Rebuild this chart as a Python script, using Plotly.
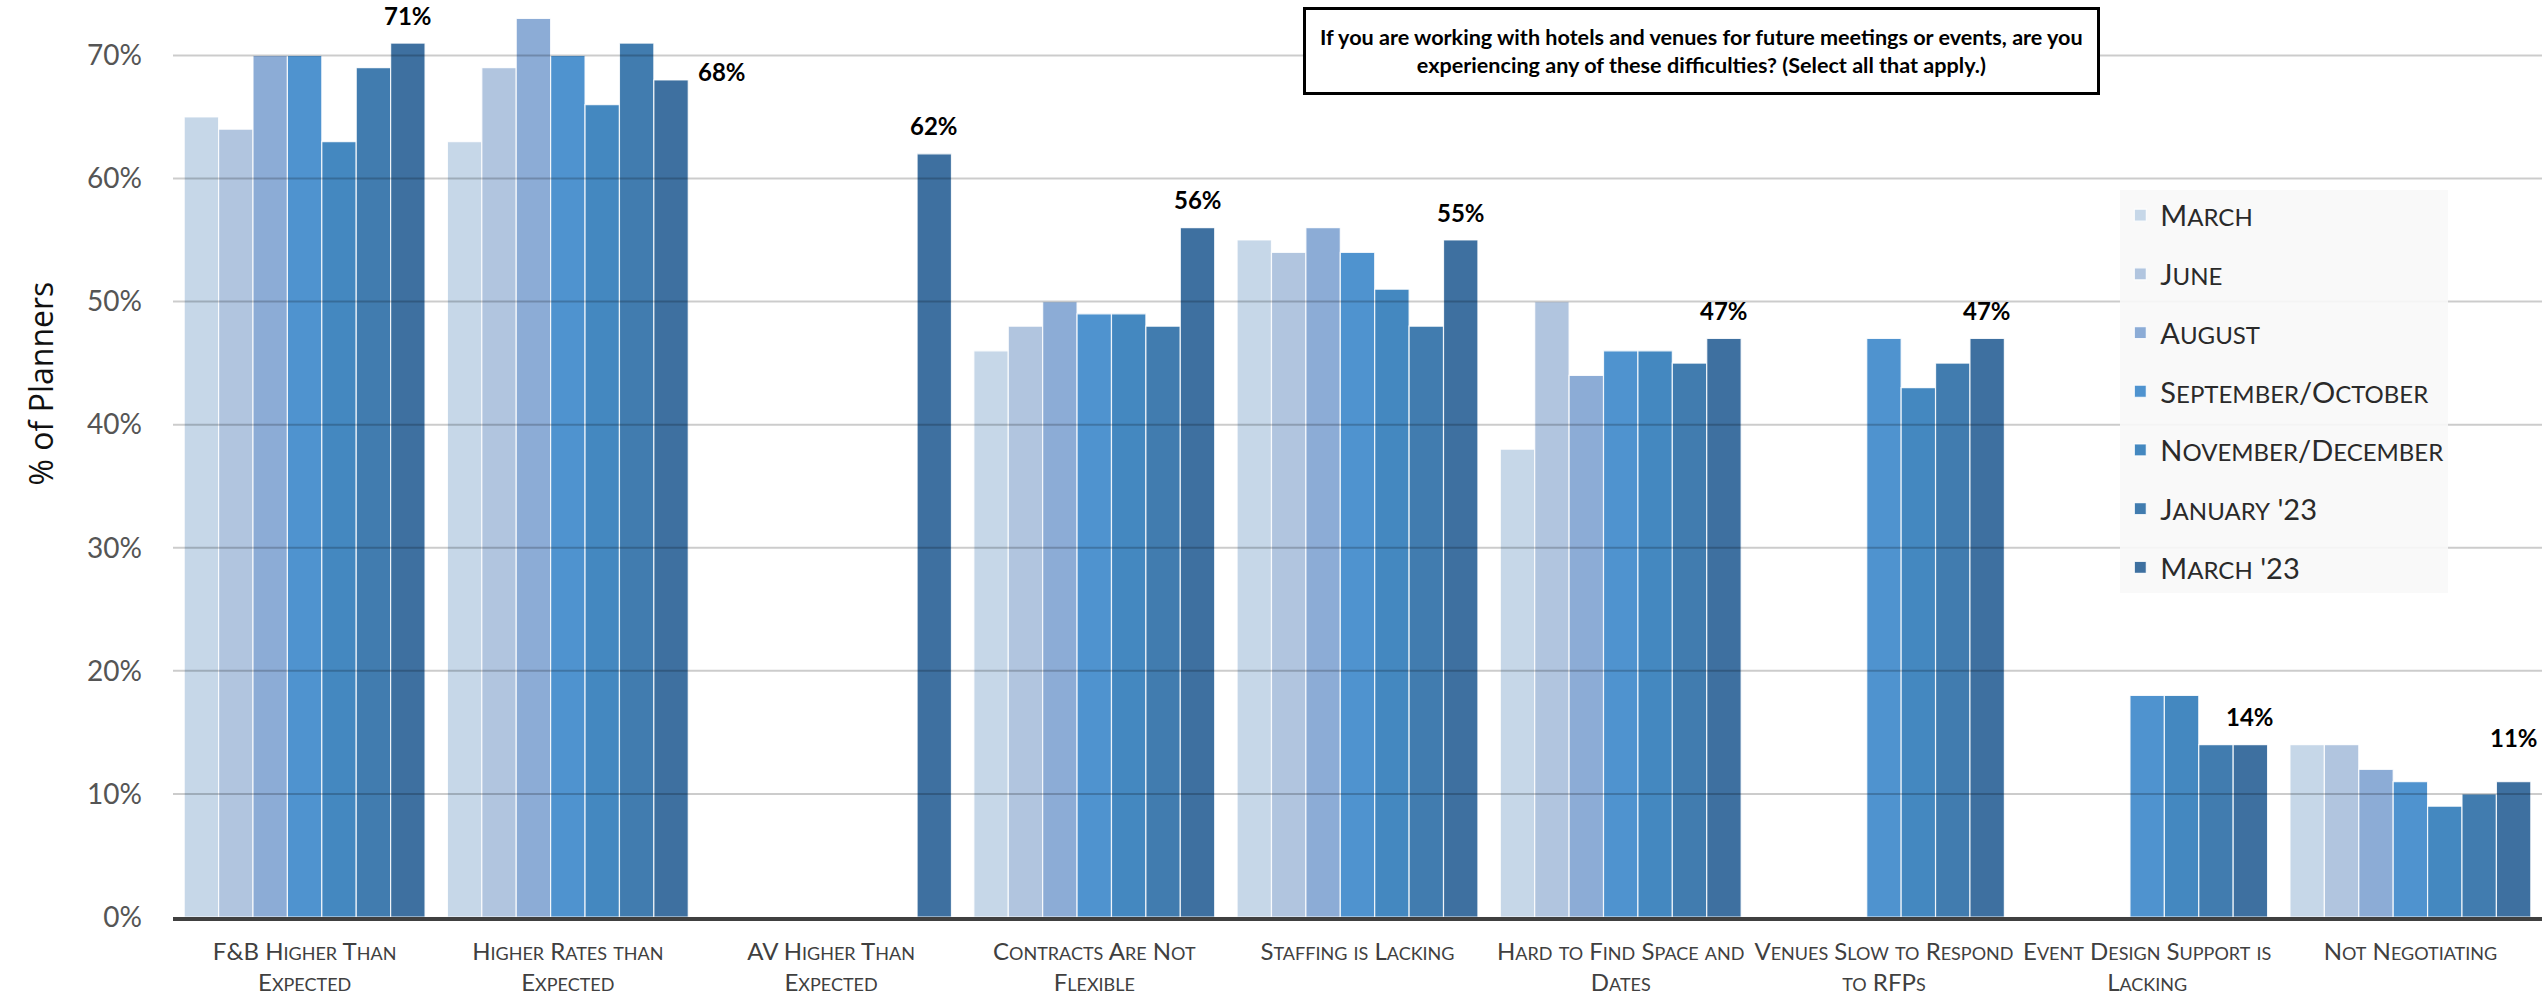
import plotly.graph_objects as go

# Survey categories (display lines) and the seven survey waves
category_lines = [
    ["F&B Higher Than", "Expected"],
    ["Higher Rates than", "Expected"],
    ["AV Higher Than", "Expected"],
    ["Contracts Are Not", "Flexible"],
    ["Staffing is Lacking"],
    ["Hard to Find Space and", "Dates"],
    ["Venues Slow to Respond", "to RFPs"],
    ["Event Design Support is", "Lacking"],
    ["Not Negotiating"],
]
categories = [" ".join(lines) for lines in category_lines]

series_names = ["March", "June", "August", "September/October",
                "November/December", "January '23", "March '23"]

march = [65, 63, None, 46, 55, 38, None, None, 14]
june = [64, 69, None, 48, 54, 50, None, None, 14]
august = [70, 73, None, 50, 56, 44, None, None, 12]
sep_oct = [70, 70, None, 49, 54, 46, 47, 18, 11]
nov_dec = [63, 66, None, 49, 51, 46, 43, 18, 9]
jan_23 = [69, 71, None, 48, 48, 45, 45, 14, 10]
march_23 = [71, 68, 62, 56, 55, 47, 47, 14, 11]
series_values = [march, june, august, sep_oct, nov_dec, jan_23, march_23]

series_colors = ["#c6d7e8", "#b1c5df", "#8cacd6", "#4f93cf",
                 "#4488c0", "#417caf", "#3e70a0"]

y_ticks = [0, 10, 20, 30, 40, 50, 60, 70]
y_tick_labels = [f"{t}%" for t in y_ticks]

TITLE = ("If you are working with hotels and venues for future meetings or events, are you"
         "<br>experiencing any of these difficulties? (Select all that apply.)")

BAR_GAP = 0.085
FONT = "Lato, 'Open Sans', sans-serif"


def small_caps(text, small_px):
    """Render lowercase letters as smaller capitals."""
    out, run = [], ""
    for ch in text:
        if ch.islower():
            run += ch.upper()
        else:
            if run:
                out.append(f'<span style="font-size:{small_px}px">{run}</span>')
                run = ""
            out.append(ch)
    if run:
        out.append(f'<span style="font-size:{small_px}px">{run}</span>')
    return "".join(out)


tick_text = ["<br>".join(small_caps(line, 18) for line in lines) for lines in category_lines]

fig = go.Figure()
for i, (name, vals, color) in enumerate(zip(series_names, series_values, series_colors)):
    fig.add_trace(go.Bar(
        x=categories,
        y=vals,
        name=small_caps(name, 24),
        legendgroup=f"g{i}",
        marker=dict(color=color, line=dict(color="rgba(255,255,255,0.85)", width=1.2)),
        hoverinfo="skip",
    ))

# Gridlines drawn over the bars so they show through
shapes = []
for t in y_ticks[1:]:
    shapes.append(dict(type="line", xref="paper", yref="y", x0=0, x1=1, y0=t, y1=t,
                       line=dict(color="rgba(0,0,0,0.2)", width=2), layer="above"))

annotations = []
# Value labels above the latest wave's bars
n_series = len(series_names)
last = n_series - 1
slot = (1 - BAR_GAP) / n_series
offset = (last - (n_series - 1) / 2) * slot
for k, v in enumerate(march_23):
    if v is None:
        continue
    xs, ys = 0, 28
    if k == 1:  # sits beside the taller neighbouring bar
        xs, ys = 51, 9
    elif k == 8:
        ys = 44
    annotations.append(dict(
        x=k + offset, y=v, xref="x", yref="y", text=f"<b>{v}%</b>",
        showarrow=False, xanchor="center", yanchor="middle", xshift=xs, yshift=ys,
        font=dict(family=FONT, size=24, color="#000000"),
    ))

# Y-axis title
annotations.append(dict(
    x=-0.0561, y=0.582, xref="paper", yref="paper", text="% of Planners",
    textangle=-90, showarrow=False, xanchor="center", yanchor="middle",
    font=dict(family="'Open Sans', sans-serif", size=32, color="#111111"),
))

# Question box
annotations.append(dict(
    x=0.645, y=0.944, xref="paper", yref="paper", text=f"<b>{TITLE}</b>",
    showarrow=False, xanchor="center", yanchor="middle", align="center",
    font=dict(family=FONT, size=21.6, color="#000000"),
    bgcolor="#ffffff", bordercolor="#000000", borderwidth=3, borderpad=14,
))

fig.update_layout(
    width=2542, height=996, autosize=False,
    margin=dict(l=173, r=0, t=0, b=79),
    paper_bgcolor="#ffffff", plot_bgcolor="#ffffff",
    barmode="group", bargap=BAR_GAP, bargroupgap=0,
    shapes=shapes, annotations=annotations,
    showlegend=True,
    legend=dict(
        x=0.822, y=0.793, xanchor="left", yanchor="top",
        bgcolor="rgba(248,248,248,0.9)", borderwidth=0,
        font=dict(family=FONT, size=29, color="#2a2a2a"),
        traceorder="grouped", tracegroupgap=18,
    ),
    xaxis=dict(
        type="category", categoryorder="array", categoryarray=categories,
        tickvals=categories, ticktext=tick_text,
        tickfont=dict(family=FONT, size=24, color="#404040"),
        showline=True, linecolor="#404040", linewidth=4,
        showgrid=False, ticks="", ticklabelstandoff=10,
    ),
    yaxis=dict(
        range=[0, 74.5], tickmode="array", tickvals=y_ticks, ticktext=y_tick_labels,
        tickfont=dict(family=FONT, size=28, color="#555555"),
        showgrid=False, zeroline=False, showline=False,
        ticks="", ticklabelstandoff=30,
    ),
)

fig.write_html("out.html")
